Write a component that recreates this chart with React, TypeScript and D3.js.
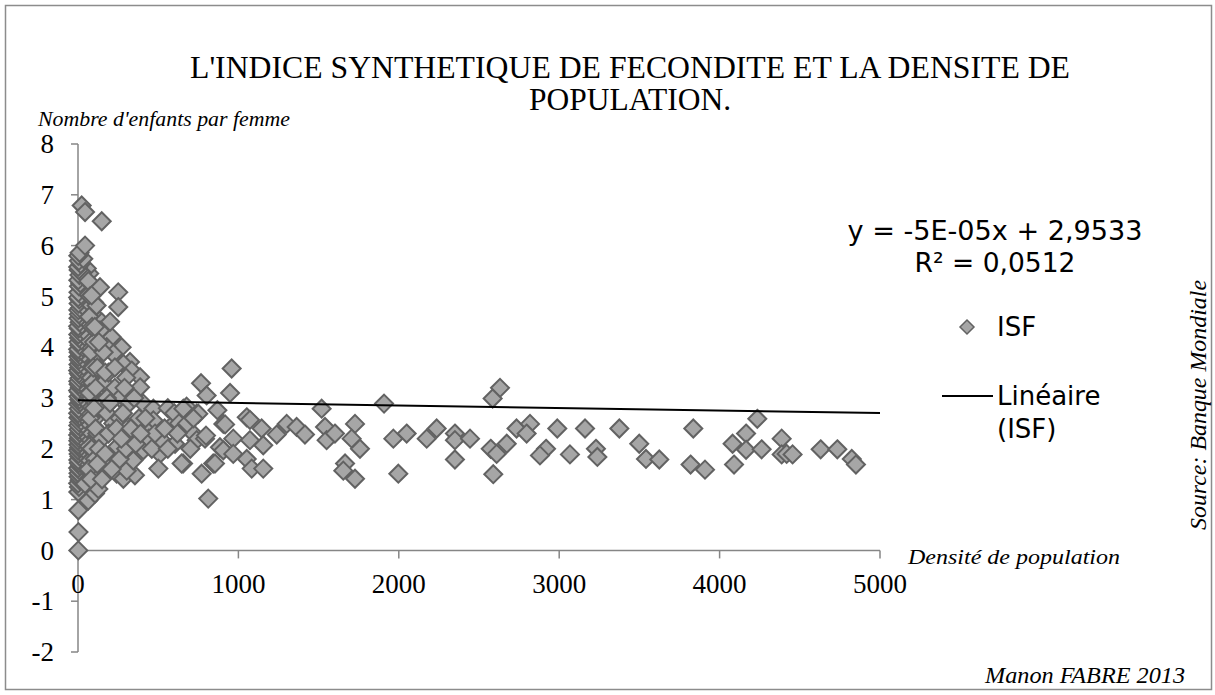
import React from 'react';
import * as d3 from 'd3';

// ---- Data (density km², fertility) ----
const yTicks = [-2, -1, 0, 1, 2, 3, 4, 5, 6, 7, 8];
const xTicks = [0, 1000, 2000, 3000, 4000, 5000];
const trendSlope = -0.00005;
const trendIntercept = 2.9533;

const pointsDense: [number, number][] = [
  [2, 1.15], [6, 1.25], [1, 1.32], [10, 1.38], [4, 1.45], [15, 1.48], [3, 1.52], [22, 1.55], [8, 1.58], [1, 1.62],
  [12, 1.66], [30, 1.68], [5, 1.72], [18, 1.75], [2, 1.78], [26, 1.82], [9, 1.85], [40, 1.88], [4, 1.9], [14, 1.94],
  [1, 1.97], [33, 2.0], [7, 2.02], [20, 2.05], [3, 2.08], [48, 2.1], [11, 2.12], [2, 2.16], [28, 2.18], [6, 2.21],
  [16, 2.24], [1, 2.27], [38, 2.3], [9, 2.32], [24, 2.35], [4, 2.38], [55, 2.4], [13, 2.43], [2, 2.46], [31, 2.49],
  [7, 2.52], [19, 2.55], [44, 2.58], [3, 2.61], [10, 2.64], [27, 2.67], [1, 2.7], [15, 2.73], [60, 2.76], [5, 2.79],
  [36, 2.82], [21, 2.85], [2, 2.88], [12, 2.91], [47, 2.94], [8, 2.97], [29, 3.0], [3, 3.03], [17, 3.06], [52, 3.09],
  [6, 3.12], [1, 3.15], [25, 3.18], [11, 3.21], [39, 3.24], [4, 3.27], [20, 3.3], [2, 3.33], [58, 3.36], [9, 3.39],
  [32, 3.42], [14, 3.45], [5, 3.48], [45, 3.51], [1, 3.54], [23, 3.57], [8, 3.6], [35, 3.63], [3, 3.66], [16, 3.69],
  [50, 3.72], [6, 3.75], [27, 3.78], [2, 3.81], [12, 3.84], [40, 3.87], [4, 3.9], [19, 3.93], [1, 3.96], [30, 4.0],
  [9, 4.04], [55, 4.07], [3, 4.1], [22, 4.14], [7, 4.18], [42, 4.21], [2, 4.25], [14, 4.29], [34, 4.33], [5, 4.37],
  [1, 4.41], [25, 4.45], [10, 4.49], [48, 4.53], [3, 4.57], [18, 4.61], [6, 4.65], [38, 4.69], [2, 4.73], [12, 4.77],
  [28, 4.82], [4, 4.86], [60, 4.9], [8, 4.94], [1, 4.98], [20, 5.03], [3, 5.08], [32, 5.14], [6, 5.2], [14, 5.26],
  [2, 5.32], [44, 5.36], [9, 5.42], [24, 5.47], [4, 5.52], [1, 5.58], [16, 5.64], [6, 5.7], [33, 5.74], [2, 5.8],
  [10, 5.86],
];

const pointsDense2: [number, number][] = [
  [45, 1.62], [70, 1.7], [95, 1.78], [55, 1.86], [120, 1.92], [80, 1.98], [62, 2.06], [105, 2.14], [50, 2.2],
  [88, 2.26], [130, 2.32], [66, 2.38], [100, 2.44], [52, 2.5], [78, 2.56], [115, 2.62], [58, 2.68], [92, 2.74],
  [135, 2.8], [48, 2.86], [72, 2.92], [108, 2.98], [60, 3.04], [84, 3.1], [125, 3.16], [46, 3.22], [98, 3.28],
  [68, 3.34], [112, 3.4], [54, 3.46], [86, 3.52], [130, 3.58], [62, 3.64], [102, 3.7], [48, 3.76], [76, 3.82],
  [118, 3.88], [58, 3.94], [90, 4.0], [70, 4.06], [106, 4.12], [50, 4.18], [82, 4.24], [125, 4.3], [64, 4.36],
  [96, 4.42], [46, 4.48], [74, 4.54], [110, 4.6], [56, 4.66], [86, 4.72], [66, 4.8], [100, 4.88], [52, 4.96],
  [78, 5.04], [60, 5.12], [90, 5.22], [48, 5.3], [70, 5.45], [55, 5.55],
];

const pointsOutliers: [number, number][] = [
  [44, 6.0], [23, 6.79], [44, 6.66], [148, 6.48], [2, 0.0], [3, 0.36], [2, 0.79], [64, 0.98], [44, 1.31],
  [106, 1.12], [127, 1.21], [95, 1.51],
];

const pointsMid: [number, number][] = [
  [70, 4.6], [80, 3.9], [90, 3.3], [75, 2.6], [85, 2.0], [100, 4.1], [95, 3.6], [110, 2.9], [120, 2.3], [105, 1.8],
  [65, 5.3], [75, 5.0], [88, 4.4], [68, 1.6], [80, 1.4], [72, 3.1],
  [116, 4.82], [137, 5.18], [85, 5.02], [148, 4.49], [210, 4.2], [272, 4.0], [324, 3.71], [251, 5.08], [251, 4.79],
  [137, 4.33], [179, 4.0], [220, 3.87], [283, 3.67], [335, 3.54], [387, 3.41], [387, 3.21], [407, 2.89], [470, 2.79],
  [470, 2.56], [366, 2.53], [428, 2.36], [304, 2.23], [241, 2.03], [200, 1.84], [158, 1.71], [241, 1.51], [283, 1.41],
  [355, 1.48], [304, 1.57], [345, 1.77], [407, 1.97], [511, 1.9], [522, 2.17], [584, 2.46], [605, 2.1], [501, 1.61],
  [120, 3.6], [160, 3.3], [190, 3.5], [230, 3.2], [260, 3.0], [300, 3.4], [140, 2.9], [180, 2.7], [220, 2.5],
  [260, 2.6], [320, 2.9], [350, 3.0], [110, 2.4], [150, 2.2], [190, 2.3], [240, 2.4], [280, 2.7], [330, 2.4],
  [380, 2.6], [420, 2.6], [130, 2.0], [170, 1.9], [210, 1.6], [260, 1.8], [300, 2.0], [120, 1.7], [150, 1.4],
  [180, 3.0], [200, 4.5], [160, 3.9], [130, 4.1], [110, 3.2], [440, 2.2], [460, 2.0], [480, 2.3], [360, 2.1],
  [390, 2.3], [270, 2.2], [100, 2.8], [105, 4.4], [170, 3.5], [290, 3.2], [230, 3.6], [200, 2.9],
];

const pointsUpperMid: [number, number][] = [
  [560, 2.8], [600, 2.7], [630, 2.5], [655, 1.71], [677, 2.83], [657, 2.79], [708, 2.33], [646, 1.71], [740, 2.69],
  [740, 2.17], [750, 2.69], [767, 3.29], [802, 3.05], [792, 2.2], [798, 2.26], [771, 1.51], [812, 1.02], [843, 1.71],
  [854, 1.71], [869, 2.76], [885, 2.03], [906, 1.97], [906, 2.49], [917, 2.48], [948, 3.1], [958, 3.58], [968, 2.2],
  [968, 1.9], [700, 2.0], [620, 2.3], [560, 2.0], [540, 2.4], [680, 2.5], [720, 2.6],
];

const pointsSparse: [number, number][] = [
  [1052, 2.62], [1072, 2.57], [1145, 2.4], [1301, 2.49], [1363, 2.43], [1415, 2.28], [1239, 2.28], [1155, 2.07],
  [1072, 2.17], [1052, 1.8], [1083, 1.61], [1155, 1.61], [1519, 2.79], [1540, 2.43], [1550, 2.17], [1602, 2.3],
  [1727, 2.49], [1706, 2.2], [1758, 2.0], [1665, 1.71], [1654, 1.57], [1727, 1.41], [1908, 2.89], [1966, 2.2],
  [2049, 2.3], [1997, 1.51], [2174, 2.2], [2236, 2.4], [2350, 2.3], [2350, 2.17], [2350, 1.79], [2444, 2.2],
  [2631, 3.2], [2585, 2.99], [2573, 2.0], [2610, 1.9], [2673, 2.1], [2589, 1.5], [2734, 2.4], [2818, 2.49],
  [2797, 2.3], [2988, 2.4], [3161, 2.4], [3375, 2.4], [2918, 2.0], [2880, 1.87], [3067, 1.89], [3229, 2.0],
  [3238, 1.84], [3499, 2.1], [3541, 1.8], [3624, 1.79], [3836, 2.4], [3819, 1.69], [3909, 1.59], [4235, 2.59],
  [4165, 2.3], [4081, 2.1], [4165, 1.98], [4090, 1.69], [4262, 1.99], [4387, 2.2], [4387, 1.89], [4418, 1.9],
  [4455, 1.89], [4630, 1.99], [4734, 1.99], [4824, 1.8], [4850, 1.69],
];

const allPoints = [
  ...pointsDense2,
  ...pointsDense,
  ...pointsOutliers,
  ...pointsMid,
  ...pointsUpperMid,
  ...pointsSparse,
];

const AXIS = '#868686';
const FILL = '#a6a6a6';
const STROKE = '#626262';

function diamond(r: number) {
  return `M0,${-r}L${r},0L0,${r}L${-r},0Z`;
}

export default function App() {
  const x = d3.scaleLinear().domain([0, 5000]).range([78, 880]);
  const y = d3.scaleLinear().domain([-2, 8]).range([652, 144]);
  const line = d3.line<number>().x((d) => x(d)).y((d) => y(trendSlope * d + trendIntercept));
  const serif = '"Liberation Serif", "Times New Roman", serif';
  const sans = '"DejaVu Sans", Verdana, sans-serif';

  return (
    <div style={{ position: 'absolute', left: 0, top: 0 }}>
      <svg width={1215} height={695} style={{ display: 'block', background: '#fff' }}>
        <rect x={5.5} y={5.5} width={1206} height={684} fill="#fff" stroke="#8c8c8c" strokeWidth={1.5} />
        {/* Title */}
        <text x={630} y={78} textAnchor="middle" fontFamily={serif} fontSize={31.5} textLength={880} lengthAdjust="spacingAndGlyphs">
          L'INDICE SYNTHETIQUE DE FECONDITE ET LA DENSITE DE
        </text>
        <text x={630} y={110} textAnchor="middle" fontFamily={serif} fontSize={31.5}>
          POPULATION.
        </text>
        <text x={38} y={126} fontFamily={serif} fontStyle="italic" fontSize={21} textLength={252} lengthAdjust="spacingAndGlyphs">
          Nombre d'enfants par femme
        </text>

        {/* Y axis */}
        <line x1={x(0)} x2={x(0)} y1={y(8)} y2={y(-2)} stroke={AXIS} strokeWidth={1.5} />
        {yTicks.map((t) => (
          <g key={'y' + t}>
            <line x1={x(0) - 7} x2={x(0)} y1={y(t)} y2={y(t)} stroke={AXIS} strokeWidth={1.5} />
            <text x={54} y={y(t)} dy="0.34em" textAnchor="end" fontFamily={serif} fontSize={27}>
              {t}
            </text>
          </g>
        ))}
        {/* X axis */}
        <line x1={x(0)} x2={x(5000)} y1={y(0)} y2={y(0)} stroke={AXIS} strokeWidth={1.5} />
        {xTicks.map((t) => (
          <g key={'x' + t}>
            <line x1={x(t)} x2={x(t)} y1={y(0)} y2={y(0) + 8} stroke={AXIS} strokeWidth={1.5} />
            <text x={x(t)} y={593} textAnchor="middle" fontFamily={serif} fontSize={27}>
              {t}
            </text>
          </g>
        ))}

        {/* Points */}
        {allPoints.map((p, i) => (
          <path
            key={i}
            d={diamond(9)}
            transform={`translate(${x(p[0])},${y(p[1])})`}
            fill={FILL}
            stroke={STROKE}
            strokeWidth={2}
          />
        ))}

        {/* Trendline */}
        <path d={line([0, 5000]) || ''} fill="none" stroke="#000" strokeWidth={2} />

        {/* Equation */}
        <text x={995} y={240} textAnchor="middle" fontFamily={sans} fontSize={26.5} textLength={295} lengthAdjust="spacingAndGlyphs">
          y = -5E-05x + 2,9533
        </text>
        <text x={995} y={272} textAnchor="middle" fontFamily={sans} fontSize={26.5}>
          R² = 0,0512
        </text>

        {/* Legend */}
        <path d={diamond(7)} transform="translate(967,327)" fill={FILL} stroke={STROKE} strokeWidth={1.5} />
        <text x={997} y={336} fontFamily={sans} fontSize={26}>ISF</text>
        <line x1={942} x2={993} y1={396} y2={396} stroke="#000" strokeWidth={2} />
        <text x={997} y={405} fontFamily={sans} fontSize={26}>Linéaire</text>
        <text x={997} y={438} fontFamily={sans} fontSize={26}>(ISF)</text>

        {/* Axis titles & notes */}
        <text x={908} y={564} fontFamily={serif} fontStyle="italic" fontSize={21} textLength={212} lengthAdjust="spacingAndGlyphs">
          Densité de population
        </text>
        <text x={985} y={683} fontFamily={serif} fontStyle="italic" fontSize={23} textLength={200} lengthAdjust="spacingAndGlyphs">
          Manon FABRE 2013
        </text>
        <text
          transform="translate(1206,530) rotate(-90)"
          fontFamily={serif}
          fontStyle="italic"
          fontSize={23}
          textLength={250}
          lengthAdjust="spacingAndGlyphs"
        >
          Source: Banque Mondiale
        </text>
      </svg>
    </div>
  );
}
